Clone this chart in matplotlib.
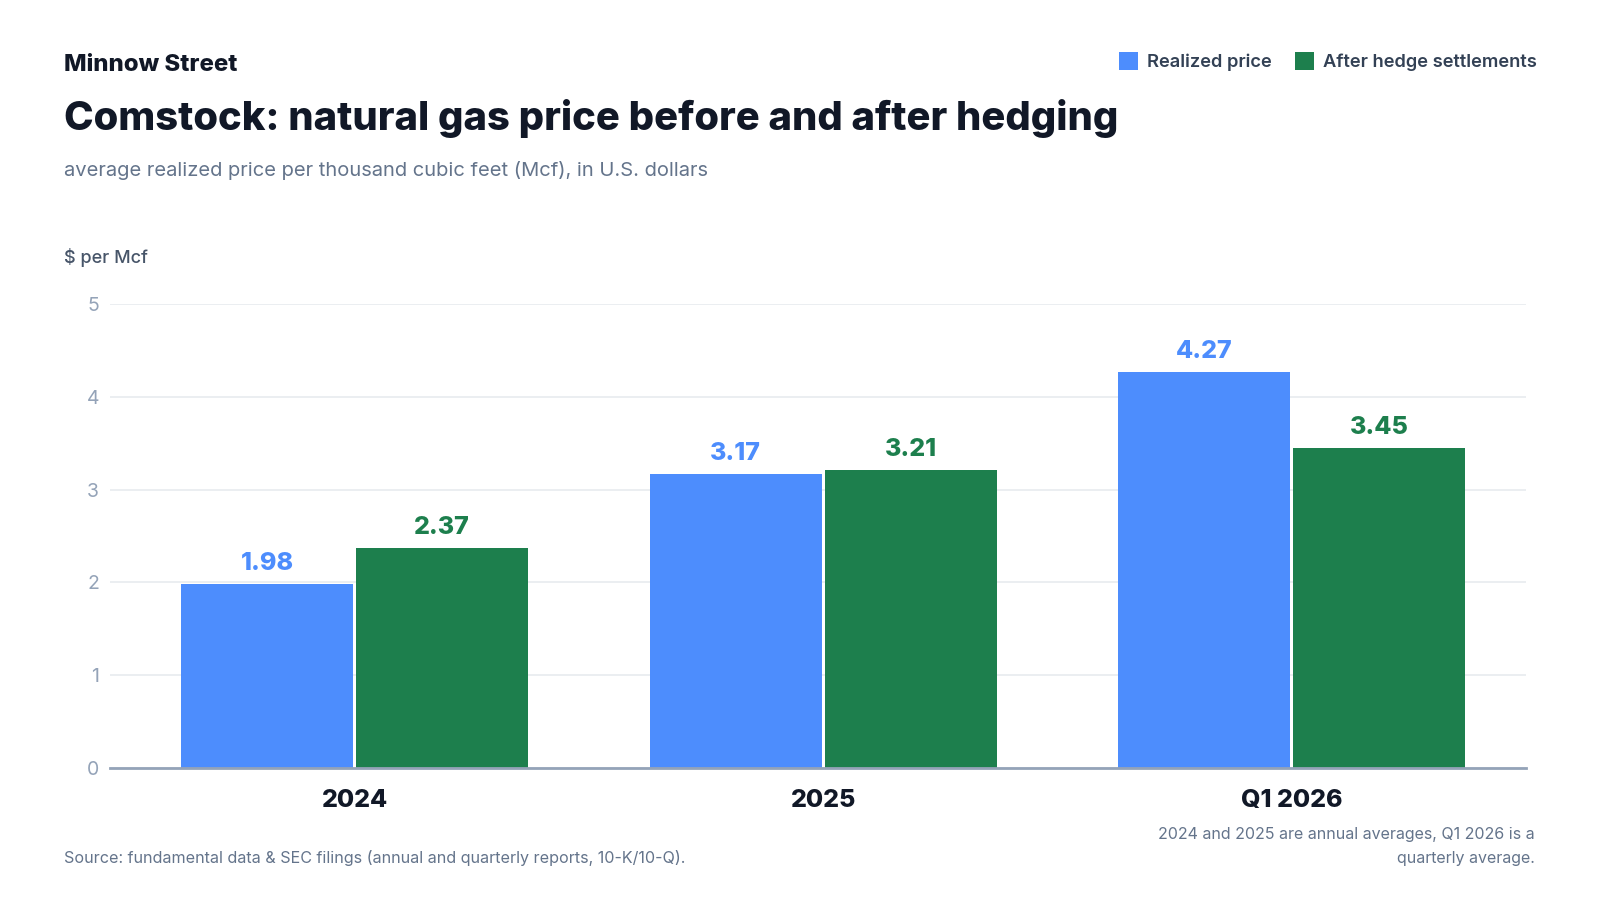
import matplotlib
matplotlib.use("Agg")
import numpy as np
import matplotlib.pyplot as plt
from matplotlib.patches import Patch

plt.rcParams['font.family'] = ['Inter', 'DejaVu Sans']

# Data
categories = ["2024", "2025", "Q1 2026"]
realized = [1.98, 3.17, 4.27]
after_hedge = [2.37, 3.21, 3.45]
series_names = ["Realized price", "After hedge settlements"]
y_ticks = [0, 1, 2, 3, 4, 5]

BLUE = "#4d8dfd"
GREEN = "#1d7f4d"
DARK = "#111827"
GREY = "#64748b"
AXIS_GREY = "#94a3b8"

fig = plt.figure(figsize=(16, 9), dpi=100)
ax = fig.add_axes([110 / 1600, 1 - 768 / 900, 1416 / 1600, 464 / 900])

x = np.arange(len(categories))
w = 0.367
off = 0.1868
b1 = ax.bar(x - off, realized, width=w, color=BLUE, zorder=3)
b2 = ax.bar(x + off, after_hedge, width=w, color=GREEN, zorder=3)

for bars, vals, col in [(b1, realized, BLUE), (b2, after_hedge, GREEN)]:
    for rect, v in zip(bars, vals):
        ax.annotate(f"{v:.2f}", (rect.get_x() + rect.get_width() / 2, v),
                    xytext=(0, 10), textcoords="offset points",
                    ha="center", va="baseline", fontsize=18,
                    fontweight=800, color=col)

ax.set_xlim(-0.522, 2.5)
ax.set_ylim(0, 5)
ax.set_yticks(y_ticks)
ax.set_xticks(x)
ax.set_xticklabels(categories, fontsize=18, fontweight=800, color=DARK)
ax.tick_params(axis="x", length=0, pad=15)
ax.tick_params(axis="y", length=0, pad=8, labelsize=14, labelcolor=AXIS_GREY)
ax.grid(axis="y", color="#e8ebef", linewidth=1.2, zorder=0)
for s in ["top", "right", "left"]:
    ax.spines[s].set_visible(False)
ax.spines["bottom"].set_color(AXIS_GREY)
ax.spines["bottom"].set_linewidth(2)
ax.spines["bottom"].set_zorder(4)

# Header texts
fig.text(64 / 1600, 1 - 70.7 / 900, "Minnow Street", fontsize=17.2,
         fontweight=800, color=DARK, va="baseline")
fig.text(64 / 1600, 1 - 130 / 900, "Comstock: natural gas price before and after hedging",
         fontsize=28.75, fontweight=800, color=DARK, va="baseline")
fig.text(64 / 1600, 1 - 176 / 900,
         "average realized price per thousand cubic feet (Mcf), in U.S. dollars",
         fontsize=14.5, color=GREY, va="baseline")
fig.text(64 / 1600, 1 - 263.3 / 900, "$ per Mcf", fontsize=13,
         fontweight=500, color="#475569", va="baseline")

# Legend
handles = [Patch(facecolor=BLUE, edgecolor="none"), Patch(facecolor=GREEN, edgecolor="none")]
leg = fig.legend(handles, series_names, loc="upper right", ncol=2, frameon=False,
                 bbox_to_anchor=(1553 / 1600, 1 - 36 / 900),
                 prop={"size": 13.2, "weight": 600},
                 handlelength=1.05, handleheight=1.05, handletextpad=0.45,
                 columnspacing=1.3, labelcolor="#334155")

# Footer
fig.text(64 / 1600, 1 - 863 / 900,
         "Source: fundamental data & SEC filings (annual and quarterly reports, 10-K/10-Q).",
         fontsize=11.6, color=GREY, va="baseline")
fig.text(1535 / 1600, 1 - 839 / 900,
         "2024 and 2025 are annual averages, Q1 2026 is a",
         fontsize=11.5, color=GREY, va="baseline", ha="right")
fig.text(1535 / 1600, 1 - 863 / 900, "quarterly average.",
         fontsize=11.5, color=GREY, va="baseline", ha="right")

fig.savefig("out.png", dpi=100, facecolor="white")
